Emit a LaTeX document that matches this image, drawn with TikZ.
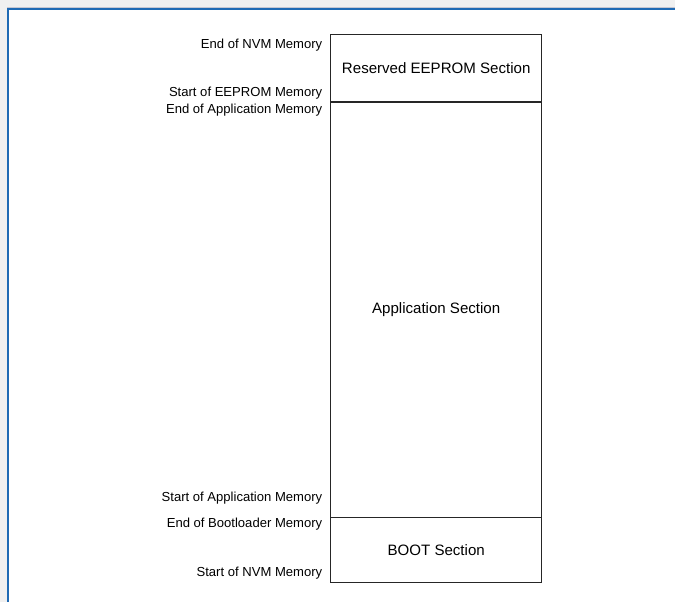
\documentclass[tikz,border=0pt]{standalone}
\usepackage{fontspec}
\setmainfont{Liberation Sans}
\definecolor{winblue}{HTML}{1F6AB4}
\definecolor{wingray}{HTML}{F0F0F0}
\tikzset{
  addr/.style={anchor=east, inner sep=0pt, font=\fontsize{9.8}{12}\selectfont},
  sect/.style={draw=black!85, line width=0.8pt, minimum width=211*0.75pt, inner sep=0pt, font=\fontsize{11.3}{13}\selectfont},
}
\begin{document}
\begin{tikzpicture}[x=0.75pt,y=-0.75pt]
			\useasboundingbox (0,0) rectangle (675,602);
			\fill[wingray] (0,0) rectangle (675,602);
			\fill[white] (8,9) rectangle (675,602);
			\draw[blue!10!gray!40, line width=0.6pt] (7,7.6) -- (675,7.6);
			\draw[winblue, line width=1.6pt] (8,602) -- (8,9) -- (675,9);
%			memory map
			\node[sect, minimum height=67.3*0.75pt] (eeprom) at (436.2,68.35) {Reserved EEPROM Section};
			\node[sect, minimum height=415.3*0.75pt] (app) at (436.2,309.65) {Application Section};
			\node[sect, minimum height=65.4*0.75pt] (boot) at (436.2,550) {BOOT Section};
			\node[addr] (nvmend) at (322.5,45) {End of NVM Memory};
			\node[addr] (eestart) at (322.5,93) {Start of EEPROM Memory};
			\node[addr] (append) at (322.5,110.5) {End of Application Memory};
			\node[addr] (appstart) at (322.5,498) {Start of Application Memory};
			\node[addr] (bootend) at (322.5,524.5) {End of Bootloader Memory};
			\node[addr] (nvmstart) at (322.5,573) {Start of NVM Memory};
		\end{tikzpicture}
\end{document}
